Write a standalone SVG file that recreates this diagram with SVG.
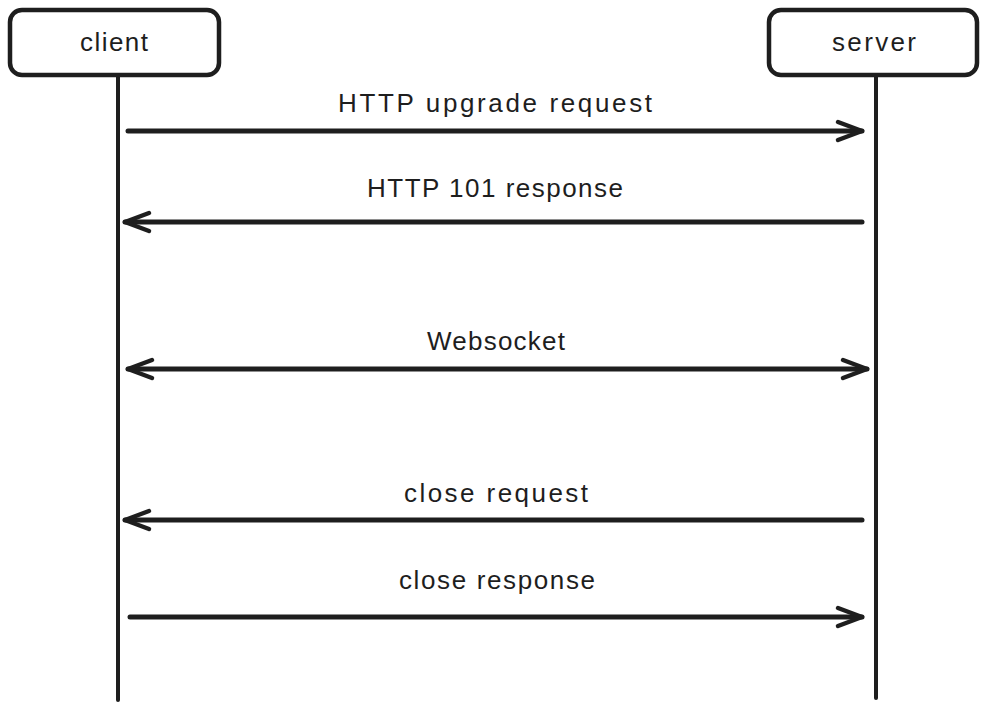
<svg xmlns="http://www.w3.org/2000/svg" width="987" height="709" viewBox="0 0 987 709">
<defs>
<marker id="head" markerUnits="userSpaceOnUse" viewBox="-28 -13 32 26" markerWidth="32" markerHeight="26" refX="0" refY="0" orient="auto-start-reverse">
<path d="M -24 -9 L 0 0 L -24 9" fill="none" stroke="#1e1e1e" stroke-width="4.5" stroke-linecap="round" stroke-linejoin="round"/>
</marker>
</defs>
<style>
.box{fill:#ffffff;stroke:#1e1e1e;stroke-width:4.5}
.life{stroke:#1e1e1e;stroke-width:4;stroke-linecap:round;fill:none}
.msg{stroke:#1e1e1e;stroke-width:5;stroke-linecap:round;fill:none}
.lbl{font-family:"Liberation Sans",Arial,sans-serif;font-size:26px;fill:#1e1e1e;text-anchor:middle}
</style>
<rect width="987" height="709" fill="#ffffff"/>
<g id="lifelines">
<line class="life" x1="118" y1="75" x2="118" y2="700"/>
<line class="life" x1="876" y1="75" x2="876" y2="698"/>
</g>
<g id="client">
<rect class="box" x="10" y="10" width="209" height="65" rx="12"/>
<text class="lbl" x="114" y="51" textLength="68" lengthAdjust="spacing">client</text>
</g>
<g id="server">
<rect class="box" x="769" y="10" width="208" height="65" rx="12"/>
<text class="lbl" x="874" y="51" textLength="84" lengthAdjust="spacing">server</text>
</g>
<g id="connectors">
<line class="msg" x1="128" y1="131" x2="862" y2="131" marker-end="url(#head)"/>
<text class="lbl" x="495" y="112" textLength="314" lengthAdjust="spacing">HTTP upgrade request</text>
<line class="msg" x1="862" y1="222" x2="125" y2="222" marker-end="url(#head)"/>
<text class="lbl" x="495" y="197" textLength="256" lengthAdjust="spacing">HTTP 101 response</text>
<line class="msg" x1="128" y1="369" x2="867" y2="369" marker-start="url(#head)" marker-end="url(#head)"/>
<text class="lbl" x="496" y="350" textLength="138" lengthAdjust="spacing">Websocket</text>
<line class="msg" x1="862" y1="520" x2="125" y2="520" marker-end="url(#head)"/>
<text class="lbl" x="496" y="502" textLength="184" lengthAdjust="spacing">close request</text>
<line class="msg" x1="130" y1="617" x2="862" y2="617" marker-end="url(#head)"/>
<text class="lbl" x="497" y="589" textLength="196" lengthAdjust="spacing">close response</text>
</g>
</svg>
